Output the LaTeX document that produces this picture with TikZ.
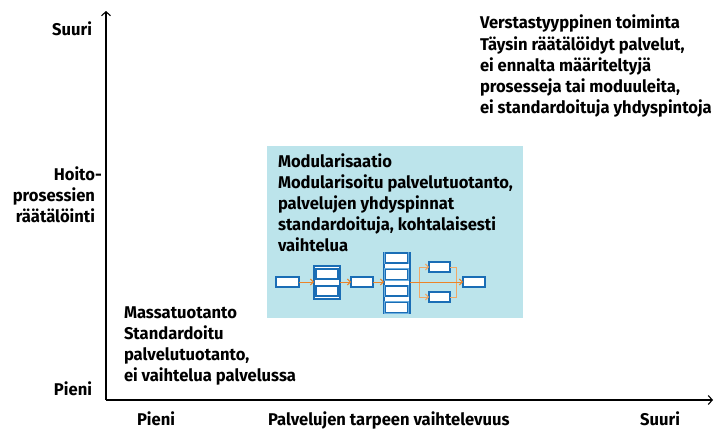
\documentclass[tikz,border=0pt]{standalone}
\usepackage{fontspec}
\setmainfont{Fira Sans}[FakeStretch=0.975]
\usetikzlibrary{arrows.meta}
\definecolor{bg}{HTML}{BCE4EB}
\definecolor{fblue}{HTML}{1A6DB5}
\definecolor{fhalo}{HTML}{6AAEE0}
\definecolor{forange}{HTML}{EC8429}
\definecolor{flight}{HTML}{F0A866}
\begin{document}
\begin{tikzpicture}[x=1pt,y=-1pt, every node/.style={inner sep=0pt, outer sep=0pt}]
\useasboundingbox (0,0) rectangle (717,431);
\tikzset{
 lbl/.style={font=\fontsize{17}{21}\selectfont\bfseries, text=black},
 ax/.style={line width=1.1pt, -{Straight Barb[length=4pt,width=9pt]}},
 fb/.style={draw=fblue, fill=white, line width=1.1pt, preaction={draw=fhalo, line width=2.6pt}},
 fa/.style={draw=forange, line width=1pt, -{Straight Barb[length=3pt,width=6pt]}},
 fl/.style={draw=flight, line width=1pt},
}
% axes
\coordinate (o) at (106,400);
\coordinate (ytop) at (106,11);
\coordinate (xend) at (713,400);
\draw[ax] (o) -- (ytop);
\draw[ax] (o) -- (xend);
% axis labels (multi-line nodes: base = last line)
\node[lbl, anchor=base east] (suuriY) at (92,35) {Suuri};
\node[lbl, anchor=base east, align=right] (hoito) at (95,222) {Hoito\rlap{-}\\prosessien\\räätälöinti};
\node[lbl, anchor=base east] (pieniY) at (92,395) {Pieni};
\node[lbl, anchor=base west] (pieniX) at (137,425) {Pieni};
\node[lbl, anchor=base west] (xlab) at (268,425) {Palvelujen tarpeen vaihtelevuus};
\node[lbl, anchor=base east] (suuriX) at (680,425) {Suuri};
% right top block
\node[lbl, anchor=base west] (verT) at (480,28) {Verstastyyppinen toiminta};
\node[lbl, anchor=base west, align=left] (verB) at (480,113) {Täysin räätälöidyt palvelut,\\ei ennalta määriteltyjä\\prosesseja tai moduuleita,\\ei standardoituja yhdyspintoja};
% modular box
\node[fill=bg, anchor=north west, minimum width=256pt, minimum height=172pt] (mod) at (267,146) {};
\node[lbl, anchor=base west] (modT) at (278,167) {Modularisaatio};
\node[lbl, anchor=base west, align=left] (modB) at (278,251) {Modularisoitu palvelutuotanto,\\palvelujen yhdyspinnat\\standardoituja, kohtalaisesti\\vaihtelua};
% mass production
\node[lbl, anchor=base west] (masT) at (124,318) {Massatuotanto};
\node[lbl, anchor=base west, align=left] (masB) at (124,381) {Standardoitu\\palvelutuotanto,\\ei vaihtelua palvelussa};
% flow diagram
\node[fb, minimum width=23pt, minimum height=10pt] (b1) at (287.5,282) {};
\node[fb, minimum width=26pt, minimum height=33pt] (g2) at (327,282.5) {};
\node[fb, minimum width=22pt, minimum height=10pt] (g2a) at (327,274) {};
\node[fb, minimum width=22pt, minimum height=10pt] (g2b) at (327,291) {};
\node[fb, minimum width=22pt, minimum height=10pt] (b3) at (362,282) {};
\node[fb, minimum width=26pt, minimum height=60pt] (g4) at (397,283) {};
\node[fb, minimum width=22pt, minimum height=10pt] (g4a) at (396.3,258) {};
\node[fb, minimum width=22pt, minimum height=10pt] (g4b) at (396.3,274.5) {};
\node[fb, minimum width=22pt, minimum height=10pt] (g4c) at (396.3,291) {};
\node[fb, minimum width=22pt, minimum height=10pt] (g4d) at (396.3,307.5) {};
\node[fb, minimum width=21pt, minimum height=10pt] (b5a) at (439.5,267) {};
\node[fb, minimum width=21pt, minimum height=10pt] (b5b) at (439.5,297) {};
\node[fb, minimum width=22pt, minimum height=10pt] (b6) at (474,282) {};
\draw[fa] (b1.east) -- (g2.west |- b1);
\draw[fa] (g2.east |- b3) -- (b3.west);
\draw[fa] (b3.east) -- (g4.west |- b3);
\coordinate (sp) at (419,282);
\coordinate (jn) at (456,282);
\draw[fl] (sp |- b5a) -- (sp |- b5b);
\draw[fl, -{Straight Barb[length=3pt,width=6pt]}] (sp |- b5a) -- (b5a.west);
\draw[fl, -{Straight Barb[length=3pt,width=6pt]}] (sp |- b5b) -- (b5b.west);
\draw[fl] (b5a.east) -| (jn |- b5b) -- (b5b.east);
\draw[fa] (g4.east |- b6) -- (b6.west);
\end{tikzpicture}
\end{document}
